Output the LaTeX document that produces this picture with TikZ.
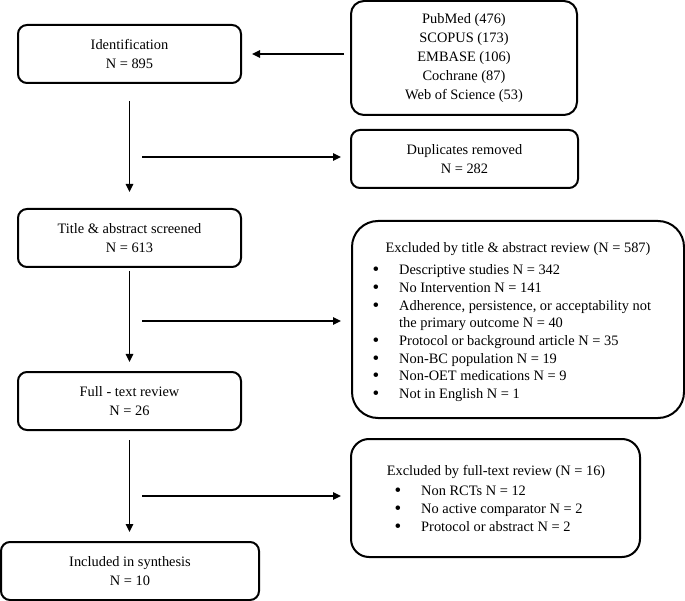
\documentclass[tikz,border=0pt]{standalone}
\usepackage{fontspec}
\setmainfont{Liberation Serif}
\usetikzlibrary{arrows.meta}
\begin{document}
\begin{tikzpicture}[x=1pt,y=-1pt,
  box/.style={draw,line width=2pt,rounded corners=9pt,inner sep=0pt,
    font=\fontsize{14.4}{19}\selectfont,align=center},
  txt/.style={font=\fontsize{14.4}{17.6}\selectfont,inner sep=0pt},
  itm/.style={txt,anchor=base west},
  bul/.style={font=\fontsize{19}{17.6}\selectfont,inner sep=0pt,anchor=base},
  arr/.style={line width=1.5pt,-{Triangle[length=8pt,width=7.5pt]}}]
\useasboundingbox (0,0) rectangle (685,601);

% main column
\node[box,minimum width=223pt,minimum height=58pt] (ident) at (129.5,54)
  {Identification\\N = 895};
\node[box,minimum width=223pt,minimum height=58pt] (title) at (129.5,238)
  {Title \& abstract screened\\N = 613};
\node[box,minimum width=223pt,minimum height=58pt] (full) at (129.5,401)
  {Full - text review\\N = 26};
\node[box,minimum width=258pt,minimum height=58pt] (incl) at (130,571)
  {Included in synthesis\\N = 10};

% right column
\node[box,rounded corners=13pt,minimum width=226pt,minimum height=114pt] (src) at (464,58)
  {PubMed (476)\\SCOPUS (173)\\EMBASE (106)\\Cochrane (87)\\Web of Science (53)};
\node[box,minimum width=227pt,minimum height=58pt] (dup) at (464.5,159)
  {Duplicates removed\\N = 282};

% excluded by title & abstract
\node[box,rounded corners=26pt,minimum width=332pt,minimum height=197pt] (exa) at (518,319.5) {};
\node[txt,anchor=base] (exah) at (518,253) {Excluded by title \& abstract review (N = 587)};
\node[bul] (ba1) at (376,276) {\textbullet};
\node[itm] (ia1) at (399,275) {Descriptive studies N = 342};
\node[bul] (ba2) at (376,293.6) {\textbullet};
\node[itm] (ia2) at (399,292.6) {No Intervention N = 141};
\node[bul] (ba3) at (376,311.2) {\textbullet};
\node[itm] (ia3) at (399,310.2) {Adherence, persistence, or acceptability not};
\node[itm] (ia3b) at (399,327.8) {the primary outcome N = 40};
\node[bul] (ba4) at (376,346.4) {\textbullet};
\node[itm] (ia4) at (399,345.4) {Protocol or background article N = 35};
\node[bul] (ba5) at (376,364) {\textbullet};
\node[itm] (ia5) at (399,363) {Non-BC population N = 19};
\node[bul] (ba6) at (376,381.6) {\textbullet};
\node[itm] (ia6) at (399,380.6) {Non-OET medications N = 9};
\node[bul] (ba7) at (376,399.2) {\textbullet};
\node[itm] (ia7) at (399,398.2) {Not in English N = 1};

% excluded by full text
\node[box,rounded corners=18pt,minimum width=289pt,minimum height=118pt] (exb) at (495.5,498) {};
\node[txt,anchor=base] (exbh) at (496,475) {Excluded by full-text review (N = 16)};
\node[bul] (bb1) at (398,496) {\textbullet};
\node[itm] (ib1) at (421,495) {Non RCTs N = 12};
\node[bul] (bb2) at (398,514) {\textbullet};
\node[itm] (ib2) at (421,513) {No active comparator N = 2};
\node[bul] (bb3) at (398,532) {\textbullet};
\node[itm] (ib3) at (421,531) {Protocol or abstract N = 2};

% connectors
\draw[arr,shorten <=6pt,shorten >=10pt] (src.west |- ident.east) -- (ident.east);
\draw[arr,shorten <=17pt,shorten >=16pt] (ident) -- (title);
\draw[arr,shorten <=3pt,shorten >=9pt] (title) -- (full);
\draw[arr,shorten <=9pt,shorten >=9pt] (full.south) -- (full.south |- incl.north);

\coordinate (h1) at (142,157);
\coordinate (h2) at (142,321);
\coordinate (h3) at (142,496);
\draw[arr,shorten >=9pt] (h1) -- (h1 -| dup.west);
\draw[arr,shorten >=10pt] (h2) -- (h2 -| exa.west);
\draw[arr,shorten >=9pt] (h3) -- (h3 -| exb.west);
\end{tikzpicture}
\end{document}
